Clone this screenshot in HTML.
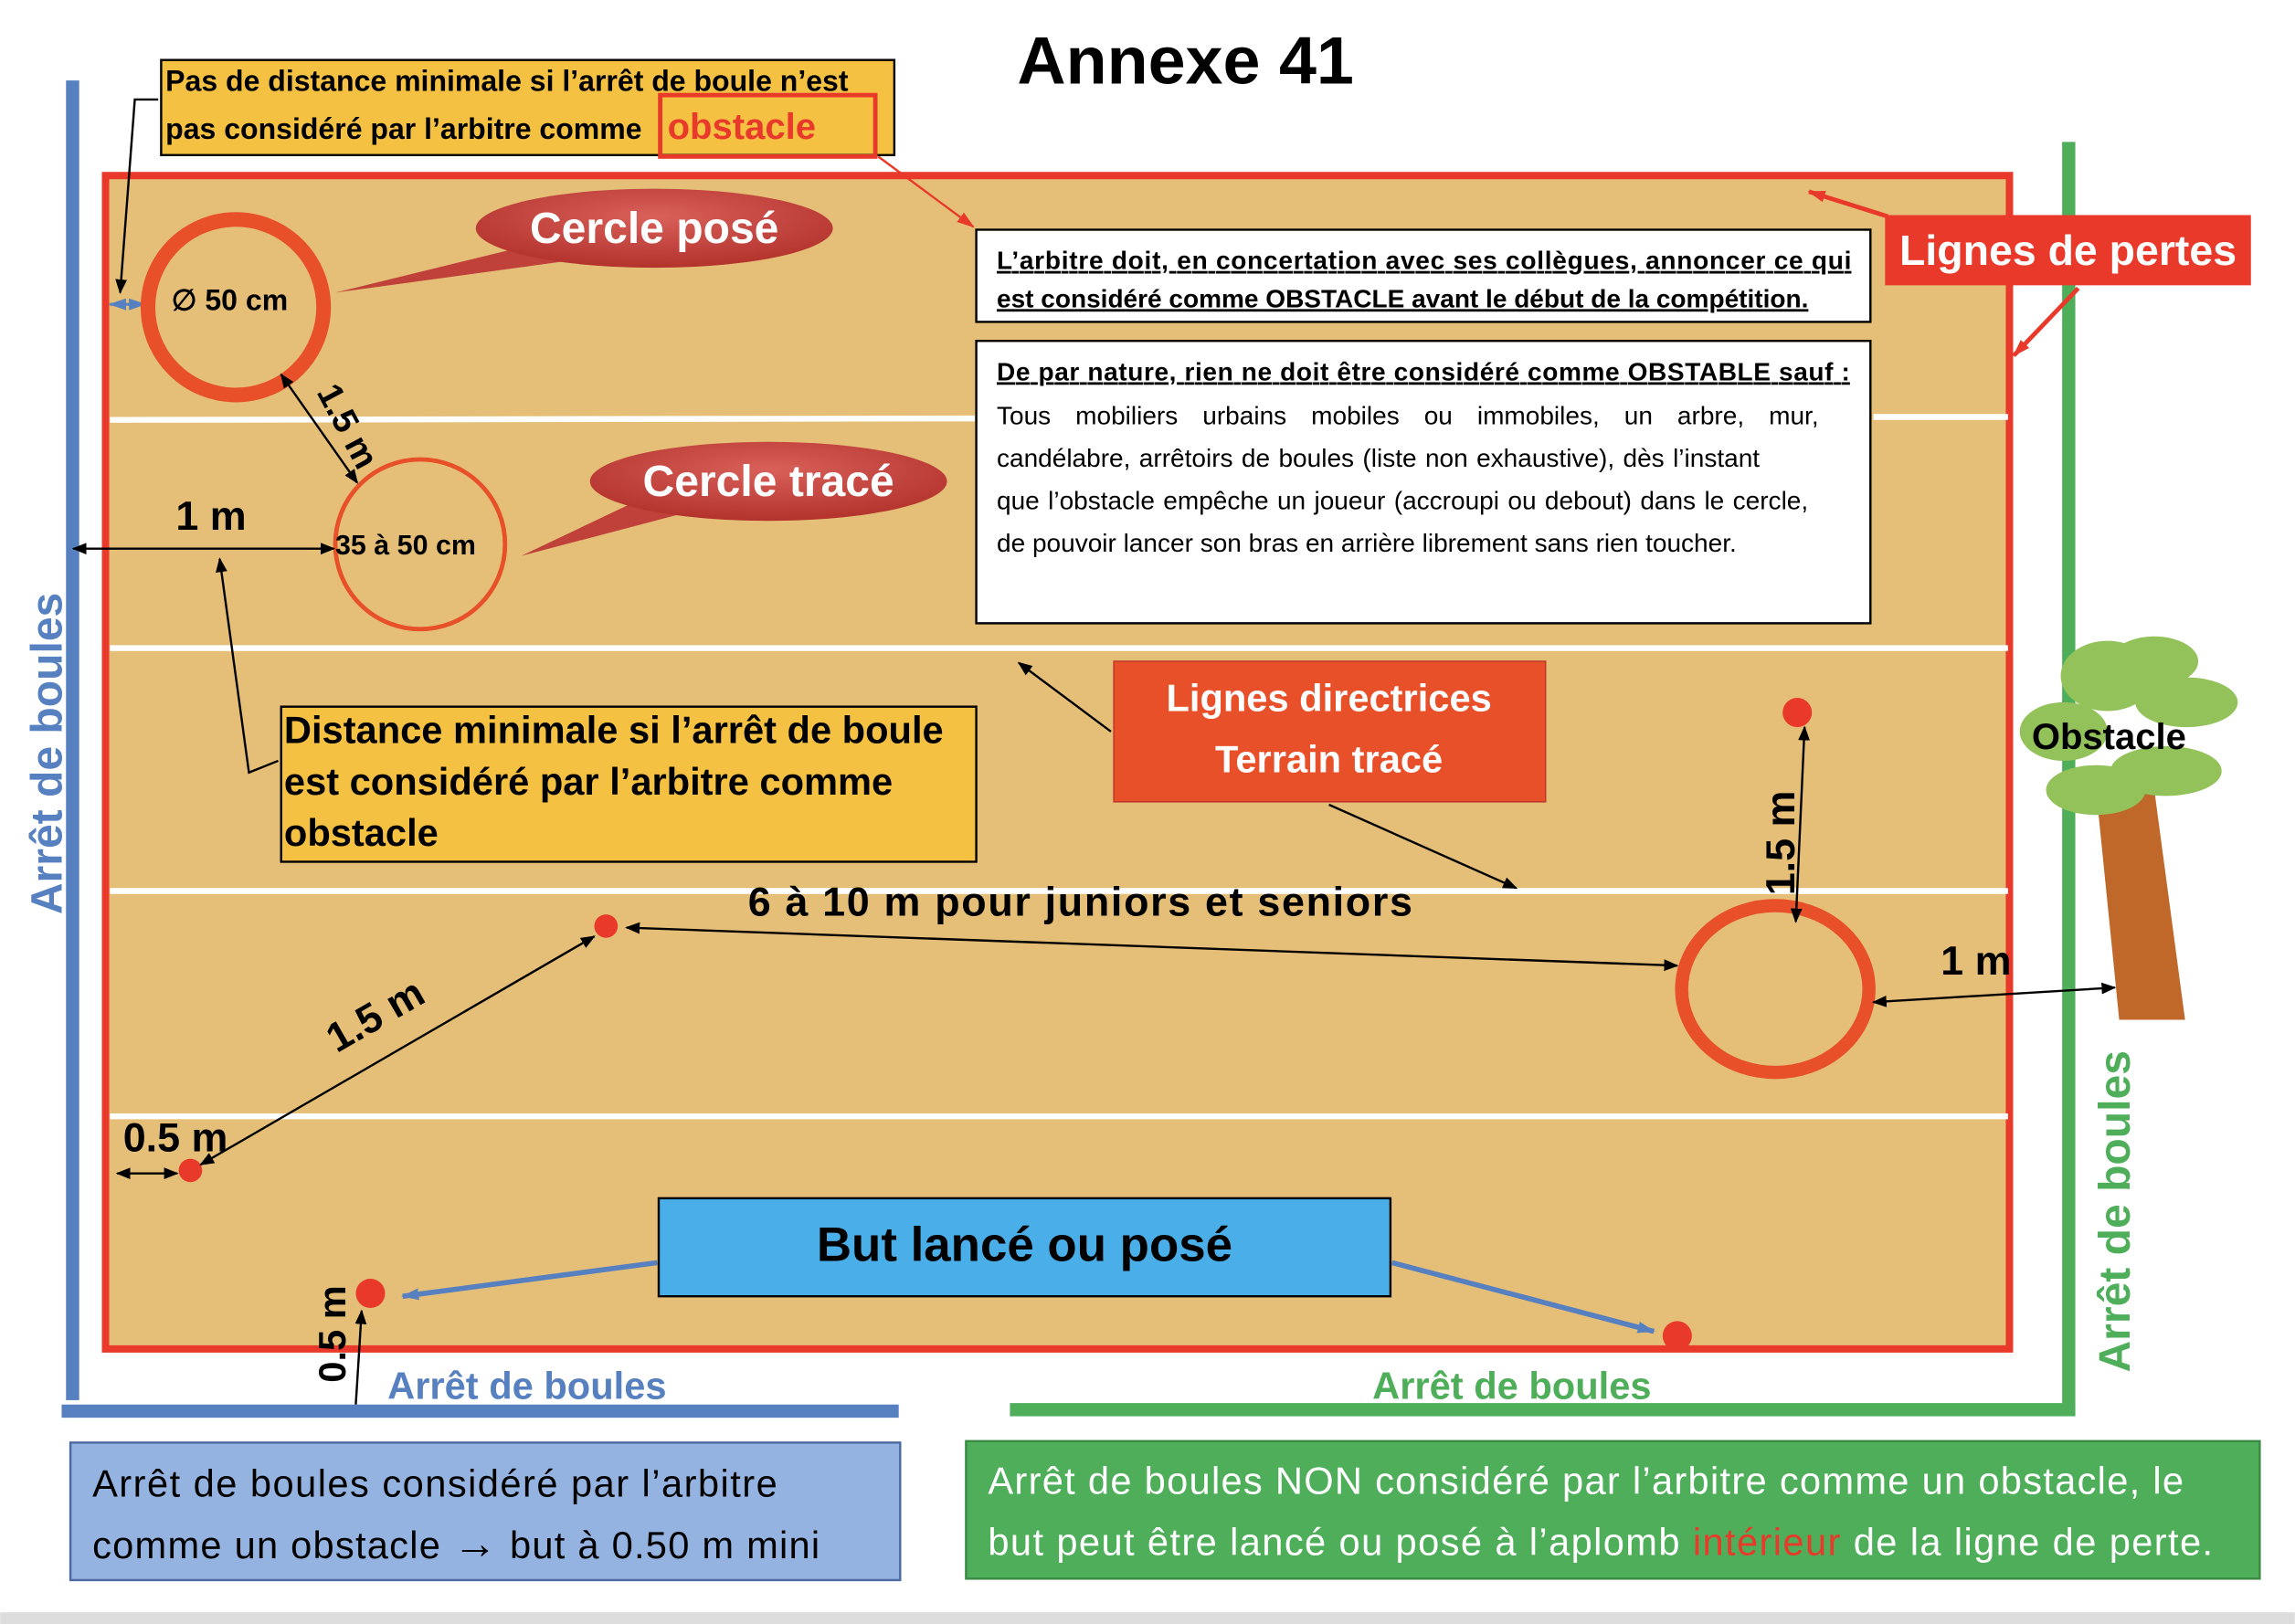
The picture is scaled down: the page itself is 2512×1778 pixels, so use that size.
<!DOCTYPE html>
<html><head><meta charset="utf-8"><style>
html,body{margin:0;padding:0;background:#fff;}
svg{display:block;}
text{font-family:"Liberation Sans",sans-serif;}
</style></head><body>
<svg width="2512" height="1778" viewBox="0 0 1568 1110" xmlns="http://www.w3.org/2000/svg">
<defs>
<marker id="a" markerWidth="10" markerHeight="10" refX="9" refY="5" orient="auto-start-reverse" markerUnits="userSpaceOnUse"><path d="M0,1 L10,5 L0,9 z" fill="#000"/></marker>
<marker id="ar" markerWidth="12" markerHeight="10" refX="11" refY="5" orient="auto-start-reverse" markerUnits="userSpaceOnUse"><path d="M0,1 L12,5 L0,9 z" fill="#e8392a"/></marker>
<marker id="ab" markerWidth="12" markerHeight="10" refX="11" refY="5" orient="auto-start-reverse" markerUnits="userSpaceOnUse"><path d="M0,1 L12,5 L0,9 z" fill="#5680c0"/></marker>
<radialGradient id="rg" cx="50%" cy="35%" r="65%"><stop offset="0" stop-color="#d9605a"/><stop offset="1" stop-color="#b3322c"/></radialGradient>
</defs>
<rect width="1568" height="1110" fill="#fff"/>
<rect x="0" y="1102" width="1568" height="8" fill="#ddd"/>
<text x="810" y="57" font-size="46" font-weight="bold" text-anchor="middle">Annexe 41</text>
<rect x="72" y="120" width="1301" height="802" fill="#e5bf78" stroke="#e8392a" stroke-width="5"/>
<g stroke="#fff" stroke-width="4">
<line x1="75" y1="287" x2="666" y2="286"/><line x1="1280" y1="285" x2="1372" y2="285"/>
<line x1="75" y1="443" x2="1372" y2="443"/>
<line x1="75" y1="609" x2="1372" y2="609"/>
<line x1="75" y1="763" x2="1372" y2="763"/>
</g>
<rect x="45" y="55" width="9" height="902" fill="#5680c0"/>
<rect x="42" y="960" width="572" height="9" fill="#5680c0"/>
<rect x="1409" y="97" width="9" height="870" fill="#4fae5a"/>
<rect x="690" y="959" width="728" height="9" fill="#4fae5a"/>
<text transform="translate(42,515) rotate(-90)" font-size="30" font-weight="bold" fill="#5680c0" text-anchor="middle">Arrêt de boules</text>
<text transform="translate(1455,828) rotate(-90)" font-size="30" font-weight="bold" fill="#4fae5a" text-anchor="middle">Arrêt de boules</text>
<text x="360" y="956" font-size="26" font-weight="bold" fill="#5680c0" text-anchor="middle">Arrêt de boules</text>
<text x="1033" y="956" font-size="26" font-weight="bold" fill="#4fae5a" text-anchor="middle">Arrêt de boules</text>
<rect x="110" y="41" width="501" height="65" fill="#f5c142" stroke="#000" stroke-width="1.5"/>
<text x="113" y="62" font-size="20" font-weight="bold">Pas de distance minimale si l’arrêt de boule n’est</text>
<text x="113" y="95" font-size="20" font-weight="bold">pas considéré par l’arbitre comme</text>
<rect x="451" y="65" width="147" height="42" fill="none" stroke="#e8392a" stroke-width="3"/>
<text x="456" y="95" font-size="25" font-weight="bold" fill="#e8392a">obstacle</text>
<polyline points="108,68 92,68 82,200" fill="none" stroke="#000" stroke-width="1.5" marker-end="url(#a)"/>
<line x1="600" y1="107" x2="665" y2="155" stroke="#e8392a" stroke-width="1.5" marker-end="url(#ar)"/>
<line x1="75" y1="208" x2="99" y2="208" stroke="#5680c0" stroke-width="2" marker-start="url(#ab)" marker-end="url(#ab)"/>
<circle cx="161" cy="210" r="60" fill="none" stroke="#e8502a" stroke-width="10"/>
<text x="117" y="212" font-size="20" font-weight="bold">∅ 50 cm</text>
<path d="M229,200 L360,168 L390,178 Z" fill="#c0403a"/>
<ellipse cx="447" cy="156" rx="122" ry="27" fill="url(#rg)"/>
<text x="447" y="166" font-size="30" font-weight="bold" fill="#fff" text-anchor="middle">Cercle posé</text>
<circle cx="287" cy="372" r="58" fill="none" stroke="#e8502a" stroke-width="3"/>
<text x="229" y="379" font-size="19" font-weight="bold">35 à 50 cm</text>
<path d="M356,380 L440,340 L470,350 Z" fill="#c0403a"/>
<ellipse cx="525" cy="329" rx="122" ry="27" fill="url(#rg)"/>
<text x="525" y="339" font-size="30" font-weight="bold" fill="#fff" text-anchor="middle">Cercle tracé</text>
<line x1="192" y1="256" x2="244" y2="330" stroke="#000" stroke-width="1.5" marker-start="url(#a)" marker-end="url(#a)"/>
<text transform="translate(216,268) rotate(62)" font-size="24" font-weight="bold">1.5 m</text>
<line x1="50" y1="375" x2="228" y2="375" stroke="#000" stroke-width="1.5" marker-start="url(#a)" marker-end="url(#a)"/>
<text x="120" y="362" font-size="28" font-weight="bold">1 m</text>
<polyline points="190,520 170,528 150,382" fill="none" stroke="#000" stroke-width="1.5" marker-end="url(#a)"/>
<rect x="667" y="157" width="611" height="63" fill="#fff" stroke="#000" stroke-width="1.5"/>
<text x="681" y="184" font-size="17.5" font-weight="bold" text-decoration="underline" textLength="584">L’arbitre doit, en concertation avec ses collègues, annoncer ce qui</text>
<text x="681" y="210" font-size="17.5" font-weight="bold" text-decoration="underline">est considéré comme OBSTACLE avant le début de la compétition.</text>
<rect x="667" y="233" width="611" height="193" fill="#fff" stroke="#000" stroke-width="1.5"/>
<text x="681" y="260" font-size="17.5" font-weight="bold" text-decoration="underline" textLength="583">De par nature, rien ne doit être considéré comme OBSTABLE sauf :</text>
<text font-size="17.5">
<tspan x="681" y="290" word-spacing="12">Tous mobiliers urbains mobiles ou immobiles, un arbre, mur,</tspan>
<tspan x="681" y="319" word-spacing="1">candélabre, arrêtoirs de boules (liste non exhaustive), dès l’instant</tspan>
<tspan x="681" y="348" word-spacing="1">que l’obstacle empêche un joueur (accroupi ou debout) dans le cercle,</tspan>
<tspan x="681" y="377">de pouvoir lancer son bras en arrière librement sans rien toucher.</tspan>
</text>
<rect x="1288" y="147" width="250" height="48" fill="#e8392a"/>
<text x="1413" y="181" font-size="29" font-weight="bold" fill="#fff" text-anchor="middle">Lignes de pertes</text>
<line x1="1290" y1="148" x2="1236" y2="131" stroke="#e8392a" stroke-width="3" marker-end="url(#ar)"/>
<line x1="1420" y1="197" x2="1376" y2="243" stroke="#e8392a" stroke-width="3" marker-end="url(#ar)"/>
<rect x="192" y="483" width="475" height="106" fill="#f5c142" stroke="#000" stroke-width="1.5"/>
<text font-size="26" font-weight="bold"><tspan x="194" y="508">Distance minimale si l’arrêt de boule</tspan><tspan x="194" y="543">est considéré par l’arbitre comme</tspan><tspan x="194" y="578">obstacle</tspan></text>
<rect x="761" y="452" width="295" height="96" fill="#e8502a" stroke="#c0392b"/>
<text x="908" y="486" font-size="26" font-weight="bold" fill="#fff" text-anchor="middle">Lignes directrices</text>
<text x="908" y="528" font-size="26" font-weight="bold" fill="#fff" text-anchor="middle">Terrain tracé</text>
<line x1="759" y1="500" x2="696" y2="453" stroke="#000" stroke-width="1.5" marker-end="url(#a)"/>
<line x1="908" y1="550" x2="1036" y2="607" stroke="#000" stroke-width="1.5" marker-end="url(#a)"/>
<text x="511" y="626" font-size="28" font-weight="bold" textLength="454">6 à 10 m pour juniors et seniors</text>
<line x1="428" y1="634" x2="1146" y2="660" stroke="#000" stroke-width="1.5" marker-start="url(#a)" marker-end="url(#a)"/>
<ellipse cx="1213" cy="676" rx="64" ry="57" fill="none" stroke="#e8502a" stroke-width="9"/>
<circle cx="1228" cy="487" r="10" fill="#e8392a"/>
<line x1="1233" y1="497" x2="1227" y2="630" stroke="#000" stroke-width="1.5" marker-start="url(#a)" marker-end="url(#a)"/>
<text transform="translate(1226,612) rotate(-90)" font-size="28" font-weight="bold">1.5 m</text>
<line x1="1280" y1="685" x2="1445" y2="675" stroke="#000" stroke-width="1.5" marker-start="url(#a)" marker-end="url(#a)"/>
<text x="1326" y="666" font-size="28" font-weight="bold">1 m</text>
<circle cx="414" cy="633" r="8" fill="#e8392a"/>
<circle cx="130" cy="800" r="8" fill="#e8392a"/>
<line x1="137" y1="796" x2="406" y2="640" stroke="#000" stroke-width="1.5" marker-start="url(#a)" marker-end="url(#a)"/>
<text transform="translate(230,720) rotate(-30)" font-size="28" font-weight="bold">1.5 m</text>
<line x1="80" y1="802" x2="121" y2="802" stroke="#000" stroke-width="1.5" marker-start="url(#a)" marker-end="url(#a)"/>
<text x="84" y="787" font-size="28" font-weight="bold">0.5 m</text>
<circle cx="253" cy="884" r="10" fill="#e8392a"/>
<circle cx="1146" cy="913" r="10" fill="#e8392a"/>
<line x1="243" y1="960" x2="247" y2="896" stroke="#000" stroke-width="1.5" marker-end="url(#a)"/>
<text transform="translate(236,945) rotate(-90)" font-size="26" font-weight="bold">0.5 m</text>
<rect x="450" y="819" width="500" height="67" fill="#4aaee8" stroke="#000" stroke-width="1.5"/>
<text x="700" y="862" font-size="33" font-weight="bold" text-anchor="middle">But lancé ou posé</text>
<line x1="449" y1="863" x2="275" y2="886" stroke="#5680c0" stroke-width="3.5" marker-end="url(#ab)"/>
<line x1="951" y1="863" x2="1130" y2="910" stroke="#5680c0" stroke-width="3.5" marker-end="url(#ab)"/>
<polygon points="1433,548 1472,540 1493,697 1448,697" fill="#c0682a"/>
<g fill="#93c25a">
<ellipse cx="1440" cy="462" rx="32" ry="24"/>
<ellipse cx="1472" cy="452" rx="30" ry="17"/>
<ellipse cx="1494" cy="480" rx="35" ry="17"/>
<ellipse cx="1410" cy="500" rx="30" ry="20"/>
<ellipse cx="1480" cy="527" rx="38" ry="17"/>
<ellipse cx="1432" cy="540" rx="34" ry="17"/>
</g>
<text x="1441" y="512" font-size="25" font-weight="bold" text-anchor="middle">Obstacle</text>
<rect x="48" y="986" width="567" height="94" fill="#95b3e0" stroke="#4a6aa0" stroke-width="1.5"/>
<text x="63" y="1023" font-size="26" textLength="468">Arrêt de boules considéré par l’arbitre</text>
<text x="63" y="1065" font-size="26" textLength="497">comme un obstacle <tspan font-size="30" font-weight="bold">→</tspan> but à 0.50 m mini</text>
<rect x="660" y="985" width="884" height="94" fill="#4fae5a" stroke="#3a8a44" stroke-width="1.5"/>
<text x="675" y="1021" font-size="26" fill="#fff" textLength="817">Arrêt de boules NON considéré par l’arbitre comme un obstacle, le</text>
<text x="675" y="1063" font-size="26" fill="#fff" textLength="837">but peut être lancé ou posé à l’aplomb <tspan fill="#e8392a">intérieur</tspan> de la ligne de perte.</text>
</svg>
</body></html>
